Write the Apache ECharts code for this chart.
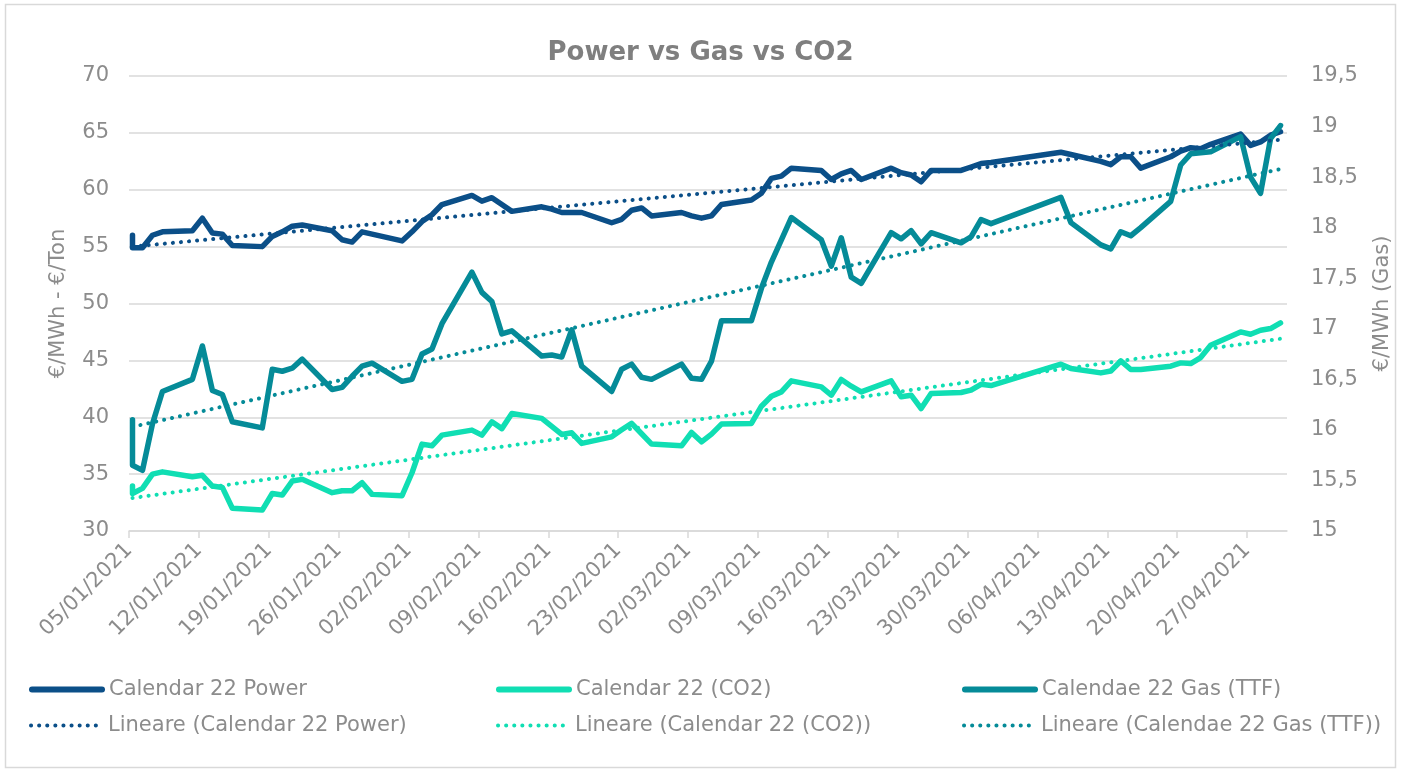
<!DOCTYPE html>
<html>
<head>
<meta charset="utf-8">
<script src="https://cdn.jsdelivr.net/npm/echarts@6/dist/echarts.min.js"></script>
<style>
  html, body { margin: 0; padding: 0; background: #fff; }
  #chart { width: 1401px; height: 772px; }
</style>
</head>
<body>
<div id="chart"></div>
<script>
const DAY = 86400000;

// trading days (first day has two readings)
const dates = [
  '05/01/2021', '05/01/2021', '06/01/2021', '07/01/2021', '08/01/2021',
  '11/01/2021', '12/01/2021', '13/01/2021', '14/01/2021', '15/01/2021',
  '18/01/2021', '19/01/2021', '20/01/2021', '21/01/2021', '22/01/2021',
  '25/01/2021', '26/01/2021', '27/01/2021', '28/01/2021', '29/01/2021',
  '01/02/2021', '02/02/2021', '03/02/2021', '04/02/2021', '05/02/2021',
  '08/02/2021', '09/02/2021', '10/02/2021', '11/02/2021', '12/02/2021',
  '15/02/2021', '16/02/2021', '17/02/2021', '18/02/2021', '19/02/2021',
  '22/02/2021', '23/02/2021', '24/02/2021', '25/02/2021', '26/02/2021',
  '01/03/2021', '02/03/2021', '03/03/2021', '04/03/2021', '05/03/2021',
  '08/03/2021', '09/03/2021', '10/03/2021', '11/03/2021', '12/03/2021',
  '15/03/2021', '16/03/2021', '17/03/2021', '18/03/2021', '19/03/2021',
  '22/03/2021', '23/03/2021', '24/03/2021', '25/03/2021', '26/03/2021',
  '29/03/2021', '30/03/2021', '31/03/2021', '01/04/2021',
  '08/04/2021', '09/04/2021',
  '12/04/2021', '13/04/2021', '14/04/2021', '15/04/2021', '16/04/2021',
  '19/04/2021', '20/04/2021', '21/04/2021', '22/04/2021', '23/04/2021',
  '26/04/2021', '27/04/2021', '28/04/2021', '29/04/2021', '30/04/2021'
];

const power = [
  56.0, 54.9, 54.9, 56.0, 56.3,
  56.4, 57.5, 56.2, 56.1, 55.1,
  55.0, 55.9, 56.3, 56.8, 56.9,
  56.4, 55.6, 55.4, 56.3, 56.1,
  55.5, 56.3, 57.2, 57.8, 58.7,
  59.5, 59.0, 59.3, 58.7, 58.1,
  58.5, 58.3, 58.0, 58.0, 58.0,
  57.1, 57.4, 58.2, 58.4, 57.7,
  58.0, 57.7, 57.5, 57.7, 58.7,
  59.1, 59.7, 61.0, 61.2, 61.9,
  61.7, 60.9, 61.4, 61.7, 60.9,
  61.9, 61.5, 61.3, 60.7, 61.7,
  61.7, 62.0, 62.3, 62.4,
  63.3, 63.1,
  62.5, 62.2, 62.9, 62.9, 61.9,
  62.9, 63.4, 63.7, 63.6, 64.0,
  64.9, 63.9, 64.2, 64.8, 65.1
];

const co2 = [
  33.95, 33.3, 33.75, 35.0, 35.2,
  34.77, 34.9, 33.95, 33.83, 32.0,
  31.84, 33.3, 33.16, 34.39, 34.54,
  33.37, 33.54, 33.54, 34.24, 33.22,
  33.1, 35.12, 37.64, 37.49, 38.43,
  38.87, 38.43, 39.6, 39.0, 40.33,
  39.9, 39.2, 38.49, 38.63, 37.7,
  38.28, 38.9, 39.46, 38.55, 37.64,
  37.49, 38.66, 37.84, 38.52, 39.4,
  39.46, 40.97, 41.85, 42.23, 43.2,
  42.67, 41.94, 43.32, 42.73, 42.23,
  43.2, 41.8, 41.94, 40.77, 42.09,
  42.18, 42.38, 42.9, 42.79,
  44.66, 44.28,
  43.9, 44.07, 44.95, 44.2, 44.2,
  44.49, 44.78, 44.72, 45.25, 46.33,
  47.5, 47.3, 47.65, 47.8, 48.3
];

const gas = [
  16.10, 15.65, 15.60, 16.06, 16.38,
  16.50, 16.83, 16.39, 16.35, 16.08,
  16.02, 16.60, 16.58, 16.61, 16.70,
  16.40, 16.42, 16.53, 16.63, 16.66,
  16.48, 16.50, 16.75, 16.80, 17.05,
  17.56, 17.36, 17.27, 16.95, 16.98,
  16.73, 16.74, 16.72, 16.99, 16.63,
  16.38, 16.60, 16.65, 16.52, 16.50,
  16.65, 16.51, 16.50, 16.68, 17.08,
  17.08, 17.40, 17.66, 17.88, 18.10,
  17.88, 17.62, 17.90, 17.51, 17.45,
  17.95, 17.89, 17.97, 17.84, 17.95,
  17.85, 17.91, 18.08, 18.04,
  18.30, 18.05,
  17.83, 17.79, 17.96, 17.92, 18.00,
  18.26, 18.62, 18.73, 18.74, 18.75,
  18.90, 18.50, 18.34, 18.88, 19.01
];

// linear trend lines, read at both ends
const trendDates = ['05/01/2021', '30/04/2021'];
const trendPower = [55.0, 64.4];
const trendCo2 = [32.9, 46.9];
const trendGas = [16.03, 18.58];

const leftTicks = [30, 70, 5];
const rightTicks = [15, 19.5, 0.5];

const C_POWER = '#0b4f88';
const C_CO2 = '#10deb3';
const C_GAS = '#058b98';
const GREY = '#8c8c8c';
const FONT = 'DejaVu Sans';

function toTime(s) {
  const p = s.split('/');
  return Date.UTC(+p[2], +p[1] - 1, +p[0]);
}
function pairs(ds, vs) {
  return ds.map((d, i) => [toTime(d), vs[i]]);
}
function fmtDate(v) {
  const d = new Date(Math.round(v / DAY) * DAY);
  const dd = String(d.getUTCDate()).padStart(2, '0');
  const mm = String(d.getUTCMonth() + 1).padStart(2, '0');
  return dd + '/' + mm + '/' + d.getUTCFullYear();
}

const t0 = toTime(dates[0]);

const SOLID_W = 5.5;
const DOT_W = 4;
const DOTS = [0.1, 8];

function solid(name, data, color, axis) {
  return {
    name: name, type: 'line', yAxisIndex: axis, data: data,
    symbol: 'none',
    lineStyle: { color: color, width: SOLID_W, join: 'round', cap: 'round' },
    itemStyle: { color: color }
  };
}
function dotted(name, data, color, axis) {
  return {
    name: name, type: 'line', yAxisIndex: axis, data: data,
    symbol: 'none',
    lineStyle: { color: color, width: DOT_W, type: DOTS, cap: 'round' },
    itemStyle: { color: color }
  };
}

const names = [
  'Calendar 22 Power', 'Calendar 22 (CO2)', 'Calendae 22 Gas (TTF)',
  'Lineare (Calendar 22 Power)', 'Lineare (Calendar 22 (CO2))', 'Lineare (Calendae 22 Gas (TTF))'
];
const legendX = [29, 496, 962];
const legendY = [679, 715];

const legends = names.map((n, i) => ({
  data: [n],
  left: legendX[i % 3],
  top: legendY[Math.floor(i / 3)],
  padding: 0,
  itemWidth: 70,
  itemHeight: 12,
  itemGap: 0,
  selectedMode: false,
  itemStyle: { opacity: 0 },
  lineStyle: i < 3 ? { width: 6, cap: 'round' } : { width: DOT_W, type: DOTS, cap: 'round' },
  textStyle: { color: GREY, fontSize: 21, fontFamily: FONT, padding: [0, 0, 0, 2] }
}));

const chart = echarts.init(document.getElementById('chart'));
chart.setOption({
  animation: false,
  backgroundColor: '#fff',
  textStyle: { fontFamily: FONT },
  title: {
    text: 'Power vs Gas vs CO2',
    left: 'center',
    top: 35,
    textStyle: { color: '#7f7f7f', fontSize: 26, fontWeight: 'bold', fontFamily: FONT }
  },
  graphic: [{
    type: 'rect',
    shape: { x: 5.5, y: 4.5, width: 1390, height: 763 },
    style: { fill: 'none', stroke: '#d9d9d9', lineWidth: 1.5 },
    silent: true, z: -1
  }],
  legend: legends,
  grid: { left: 129, right: 112, top: 76, bottom: 241 },
  xAxis: {
    type: 'value',
    min: t0 - 0.35 * DAY,
    max: t0 + 115.65 * DAY,
    interval: 7 * DAY,
    axisLine: { lineStyle: { color: '#d9d9d9', width: 1.5 } },
    axisTick: { show: true, length: 7, lineStyle: { color: '#d9d9d9', width: 1.5 } },
    splitLine: { show: false },
    axisLabel: {
      rotate: 45, margin: 16, color: GREY, fontSize: 21, fontFamily: FONT,
      showMaxLabel: false,
      formatter: fmtDate
    }
  },
  yAxis: [{
    type: 'value',
    min: leftTicks[0], max: leftTicks[1], interval: leftTicks[2],
    name: '€/MWh - €/Ton',
    nameLocation: 'middle',
    nameGap: 60,
    nameTextStyle: { color: GREY, fontSize: 21, fontFamily: FONT },
    axisLine: { show: false },
    axisTick: { show: false },
    splitLine: { lineStyle: { color: '#d9d9d9', width: 1.5 } },
    axisLabel: { color: GREY, fontSize: 21, margin: 20, fontFamily: FONT }
  }, {
    type: 'value',
    min: rightTicks[0], max: rightTicks[1], interval: rightTicks[2],
    name: '€/MWh (Gas)',
    nameLocation: 'middle',
    nameGap: 85,
    nameTextStyle: { color: GREY, fontSize: 21, fontFamily: FONT },
    axisLine: { show: false },
    axisTick: { show: false },
    splitLine: { show: false },
    axisLabel: {
      color: GREY, fontSize: 21, margin: 24, fontFamily: FONT,
      formatter: v => String(v).replace('.', ',')
    }
  }],
  series: [
    solid(names[0], pairs(dates, power), C_POWER, 0),
    solid(names[1], pairs(dates, co2), C_CO2, 0),
    solid(names[2], pairs(dates, gas), C_GAS, 1),
    dotted(names[3], pairs(trendDates, trendPower), C_POWER, 0),
    dotted(names[4], pairs(trendDates, trendCo2), C_CO2, 0),
    dotted(names[5], pairs(trendDates, trendGas), C_GAS, 1)
  ]
});
</script>
</body>
</html>
